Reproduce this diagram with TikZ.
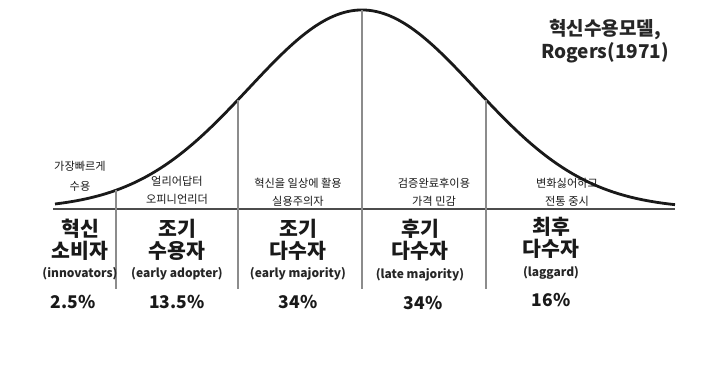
\documentclass[tikz,border=0pt]{standalone}
\usepackage{fontspec}
\setmainfont{Noto Sans CJK KR}
\usepackage{tikz}
\tikzstyle{adopt}=[x=1pt, y=-1pt, font=\fontsize{10}{12}\selectfont]
\tikzstyle{curve}=[line width=2.8pt, black!90]
\tikzstyle{axis}=[line width=1.4pt, black!70]
\tikzstyle{sep}=[line width=1.2pt, black!45]
\tikzstyle{note}=[inner sep=1pt, font=\fontsize{11.2}{13}\selectfont, text=black!90]
\tikzstyle{grp}=[inner sep=1pt, font=\fontsize{20.5}{22}\bfseries\selectfont, text=black!90]
\tikzstyle{eng}=[inner sep=1pt, font=\fontsize{12}{14}\bfseries\selectfont, text=black!85]
\tikzstyle{pct}=[inner sep=1pt, font=\fontsize{17.5}{19}\bfseries\selectfont, text=black!90]
\tikzstyle{ttl}=[inner sep=1pt, align=center, font=\fontsize{19}{23}\bfseries\selectfont, text=black!85]

\begin{document}
\begin{tikzpicture}[adopt, declare function={bell(\x)=209-199*exp(-((\x-362)/100)^2/2.5626);}]
	\useasboundingbox (0,0) rectangle (722,381);
	%The title
	\node[ttl] (title) at (605,41) {혁신수용모델,\\Rogers(1971)};

	%The base line and the bell curve
	\draw[axis] (53,209) coordinate (b0) -- (675,209) coordinate (b1);
	\draw[curve] plot[domain=55:675, samples=120, smooth] (\x,{bell(\x)});

	%The group separators
	\foreach \sx/\sn in {116/s1, 238/s2, 362/s3, 486/s4} {
		\coordinate (\sn top) at (\sx,{bell(\sx)});
		\coordinate (\sn bot) at (\sx,289);
		\draw[sep] (\sn top) -- (\sn bot);
	}

	%The notes above the line
	\node[note] (n1a) at (80,166) {가장빠르게};
	\node[note] (n1b) at (80,186) {수용};
	\node[note] (n2a) at (177,181) {얼리어답터};
	\node[note] (n2b) at (177,199) {오피니언리더};
	\node[note] (n3a) at (298,183) {혁신을 일상에 활용};
	\node[note] (n3b) at (298,201) {실용주의자};
	\node[note] (n4a) at (434,183) {검증완료후이용};
	\node[note] (n4b) at (434,201) {가격 민감};
	\node[note] (n5a) at (567,183) {변화싫어하고};
	\node[note] (n5b) at (567,201) {전통 중시};

	%The groups
	\node[grp] (g1a) at (80,229) {혁신};
	\node[grp] (g1b) at (80,251) {소비자};
	\node[eng] (e1) at (80,274) {(innovators)};
	\node[pct] (p1) at (73,302) {2.5\%};

	\node[grp] (g2a) at (177,229) {조기};
	\node[grp] (g2b) at (177,251) {수용자};
	\node[eng] (e2) at (177,274) {(early adopter)};
	\node[pct] (p2) at (177,302) {13.5\%};

	\node[grp] (g3a) at (298,229) {조기};
	\node[grp] (g3b) at (298,251) {다수자};
	\node[eng] (e3) at (298,274) {(early majority)};
	\node[pct] (p3) at (298,302) {34\%};

	\node[grp] (g4a) at (420,229) {후기};
	\node[grp] (g4b) at (420,251) {다수자};
	\node[eng] (e4) at (420,275) {(late majority)};
	\node[pct] (p4) at (423,303) {34\%};

	\node[grp] (g5a) at (551,227) {최후};
	\node[grp] (g5b) at (551,249) {다수자};
	\node[eng] (e5) at (551,273) {(laggard)};
	\node[pct] (p5) at (551,300) {16\%};
\end{tikzpicture}
\end{document}
